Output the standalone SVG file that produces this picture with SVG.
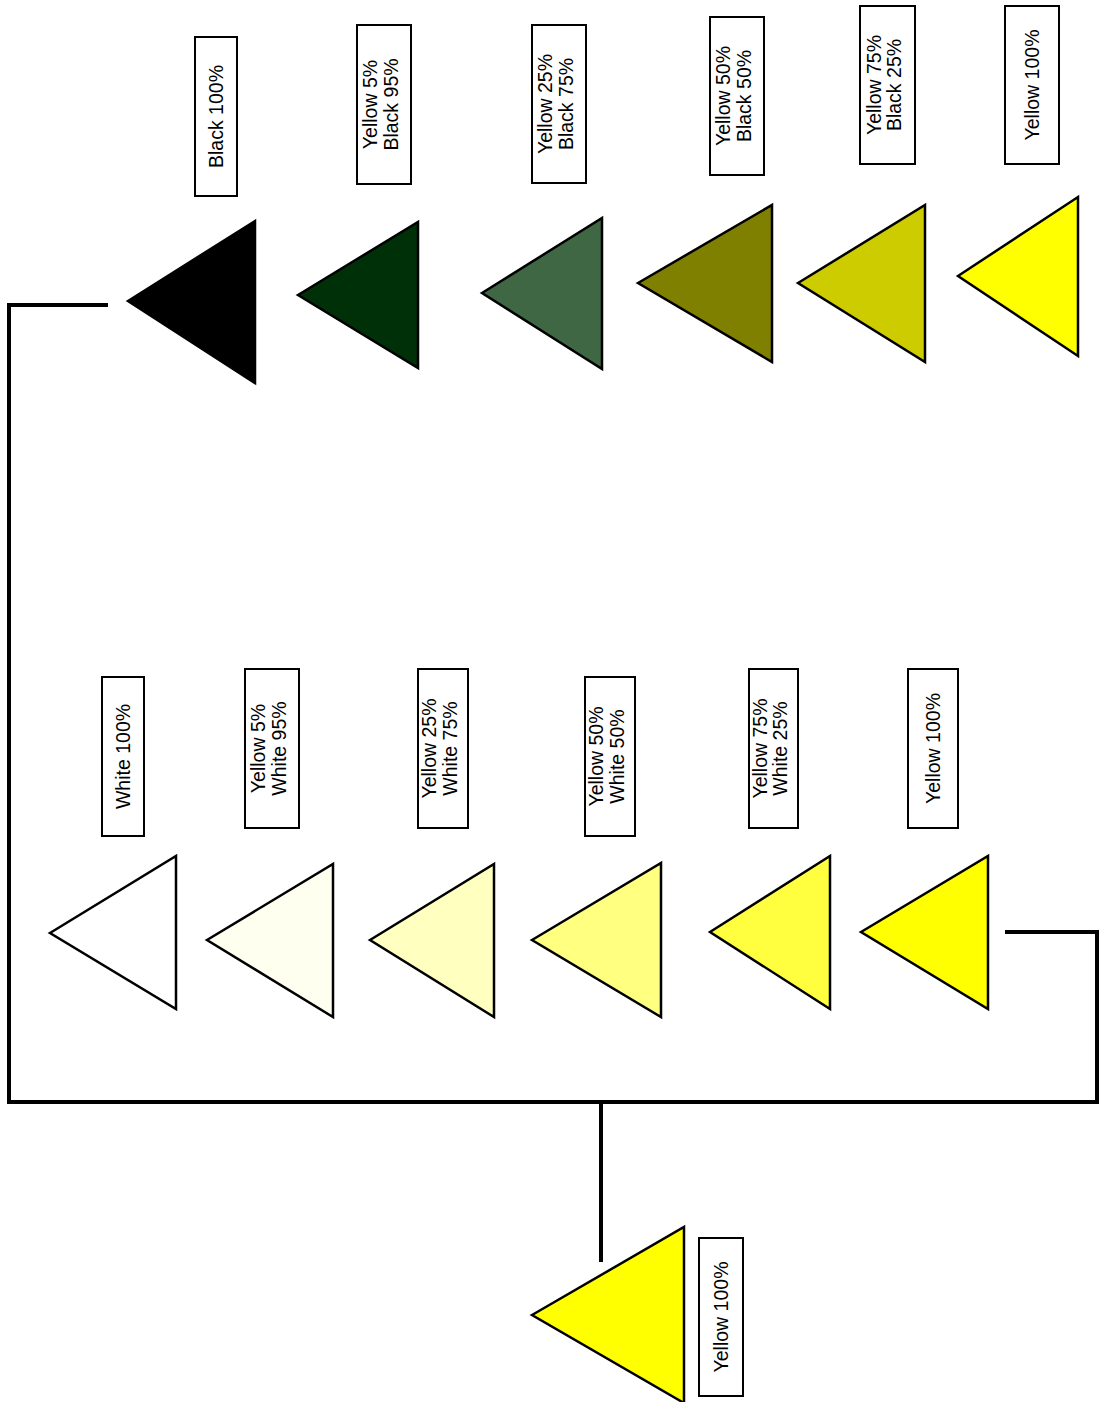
<svg xmlns="http://www.w3.org/2000/svg" width="1099" height="1402" viewBox="0 0 1099 1402">
<style>
.tri{stroke:#000;stroke-width:2.5;stroke-linejoin:miter}
.box{fill:#fff;stroke:#000;stroke-width:2}
.lbl{font-family:"Liberation Sans",Arial,sans-serif;font-size:19.5px;fill:#000;text-anchor:middle}
.conn{fill:none;stroke:#000;stroke-width:4}
</style>
<rect width="1099" height="1402" fill="#fff"/>
<g id="connectors">
<polyline class="conn" points="108,305 9,305 9,1102"/>
<line class="conn" x1="7" y1="1102" x2="1099" y2="1102"/>
<polyline class="conn" points="1005,932 1097,932 1097,1102"/>
<line class="conn" x1="601" y1="1102" x2="601" y2="1262"/>
</g>
<g id="black100">
<polygon class="tri" fill="#000" points="128,301 255,221 255,383"/>
<rect class="box" x="195" y="37" width="42" height="159"/>
<text class="lbl" transform="translate(216,116.5) rotate(-90)" x="0" y="7">Black 100%</text>
</g>
<g id="y5b95">
<polygon class="tri" fill="#003008" points="298,295 418,222 418,368"/>
<rect class="box" x="357" y="25" width="54" height="159"/>
<text class="lbl" transform="translate(384,104.5) rotate(-90)"><tspan x="0" y="-7">Yellow 5%</tspan><tspan x="0" y="13.5">Black 95%</tspan></text>
</g>
<g id="y25b75">
<polygon class="tri" fill="#406744" points="482,293 602,218 602,369"/>
<rect class="box" x="532" y="25" width="54" height="158"/>
<text class="lbl" transform="translate(559,104) rotate(-90)"><tspan x="0" y="-7">Yellow 25%</tspan><tspan x="0" y="13.5">Black 75%</tspan></text>
</g>
<g id="y50b50">
<polygon class="tri" fill="#808000" points="638,283 772,205 772,362"/>
<rect class="box" x="710" y="17" width="54" height="158"/>
<text class="lbl" transform="translate(737,96) rotate(-90)"><tspan x="0" y="-7">Yellow 50%</tspan><tspan x="0" y="13.5">Black 50%</tspan></text>
</g>
<g id="y75b25">
<polygon class="tri" fill="#cccc00" points="798,283 925,205 925,362"/>
<rect class="box" x="860" y="6" width="55" height="158"/>
<text class="lbl" transform="translate(887.5,85) rotate(-90)"><tspan x="0" y="-7">Yellow 75%</tspan><tspan x="0" y="13.5">Black 25%</tspan></text>
</g>
<g id="yellow100top">
<polygon class="tri" fill="#ffff00" points="958,276 1078,197 1078,356"/>
<rect class="box" x="1005" y="6" width="54" height="158"/>
<text class="lbl" transform="translate(1032,85) rotate(-90)" x="0" y="7">Yellow 100%</text>
</g>
<g id="white100">
<polygon class="tri" fill="#ffffff" points="50,933 176,856 176,1009"/>
<rect class="box" x="102" y="677" width="42" height="159"/>
<text class="lbl" transform="translate(123,756.5) rotate(-90)" x="0" y="7">White 100%</text>
</g>
<g id="y5w95">
<polygon class="tri" fill="#fffff0" points="207,940 333,864 333,1017"/>
<rect class="box" x="245" y="669" width="54" height="159"/>
<text class="lbl" transform="translate(272,748.5) rotate(-90)"><tspan x="0" y="-7">Yellow 5%</tspan><tspan x="0" y="13.5">White 95%</tspan></text>
</g>
<g id="y25w75">
<polygon class="tri" fill="#ffffc0" points="370,940 494,864 494,1017"/>
<rect class="box" x="418" y="669" width="50" height="159"/>
<text class="lbl" transform="translate(443,748.5) rotate(-90)"><tspan x="0" y="-7">Yellow 25%</tspan><tspan x="0" y="13.5">White 75%</tspan></text>
</g>
<g id="y50w50">
<polygon class="tri" fill="#ffff80" points="532,940 661,863 661,1017"/>
<rect class="box" x="585" y="677" width="50" height="159"/>
<text class="lbl" transform="translate(610,756.5) rotate(-90)"><tspan x="0" y="-7">Yellow 50%</tspan><tspan x="0" y="13.5">White 50%</tspan></text>
</g>
<g id="y75w25">
<polygon class="tri" fill="#ffff40" points="710,932 830,856 830,1009"/>
<rect class="box" x="749" y="669" width="49" height="159"/>
<text class="lbl" transform="translate(773.5,748.5) rotate(-90)"><tspan x="0" y="-7">Yellow 75%</tspan><tspan x="0" y="13.5">White 25%</tspan></text>
</g>
<g id="yellow100mid">
<polygon class="tri" fill="#ffff00" points="861,932 988,856 988,1009"/>
<rect class="box" x="908" y="669" width="50" height="159"/>
<text class="lbl" transform="translate(933,748.5) rotate(-90)" x="0" y="7">Yellow 100%</text>
</g>
<g id="yellow100root">
<polygon class="tri" fill="#ffff00" points="532,1315 684,1227 684,1403"/>
<rect class="box" x="699" y="1238" width="44" height="158"/>
<text class="lbl" transform="translate(721,1317) rotate(-90)" x="0" y="7">Yellow 100%</text>
</g>
</svg>
